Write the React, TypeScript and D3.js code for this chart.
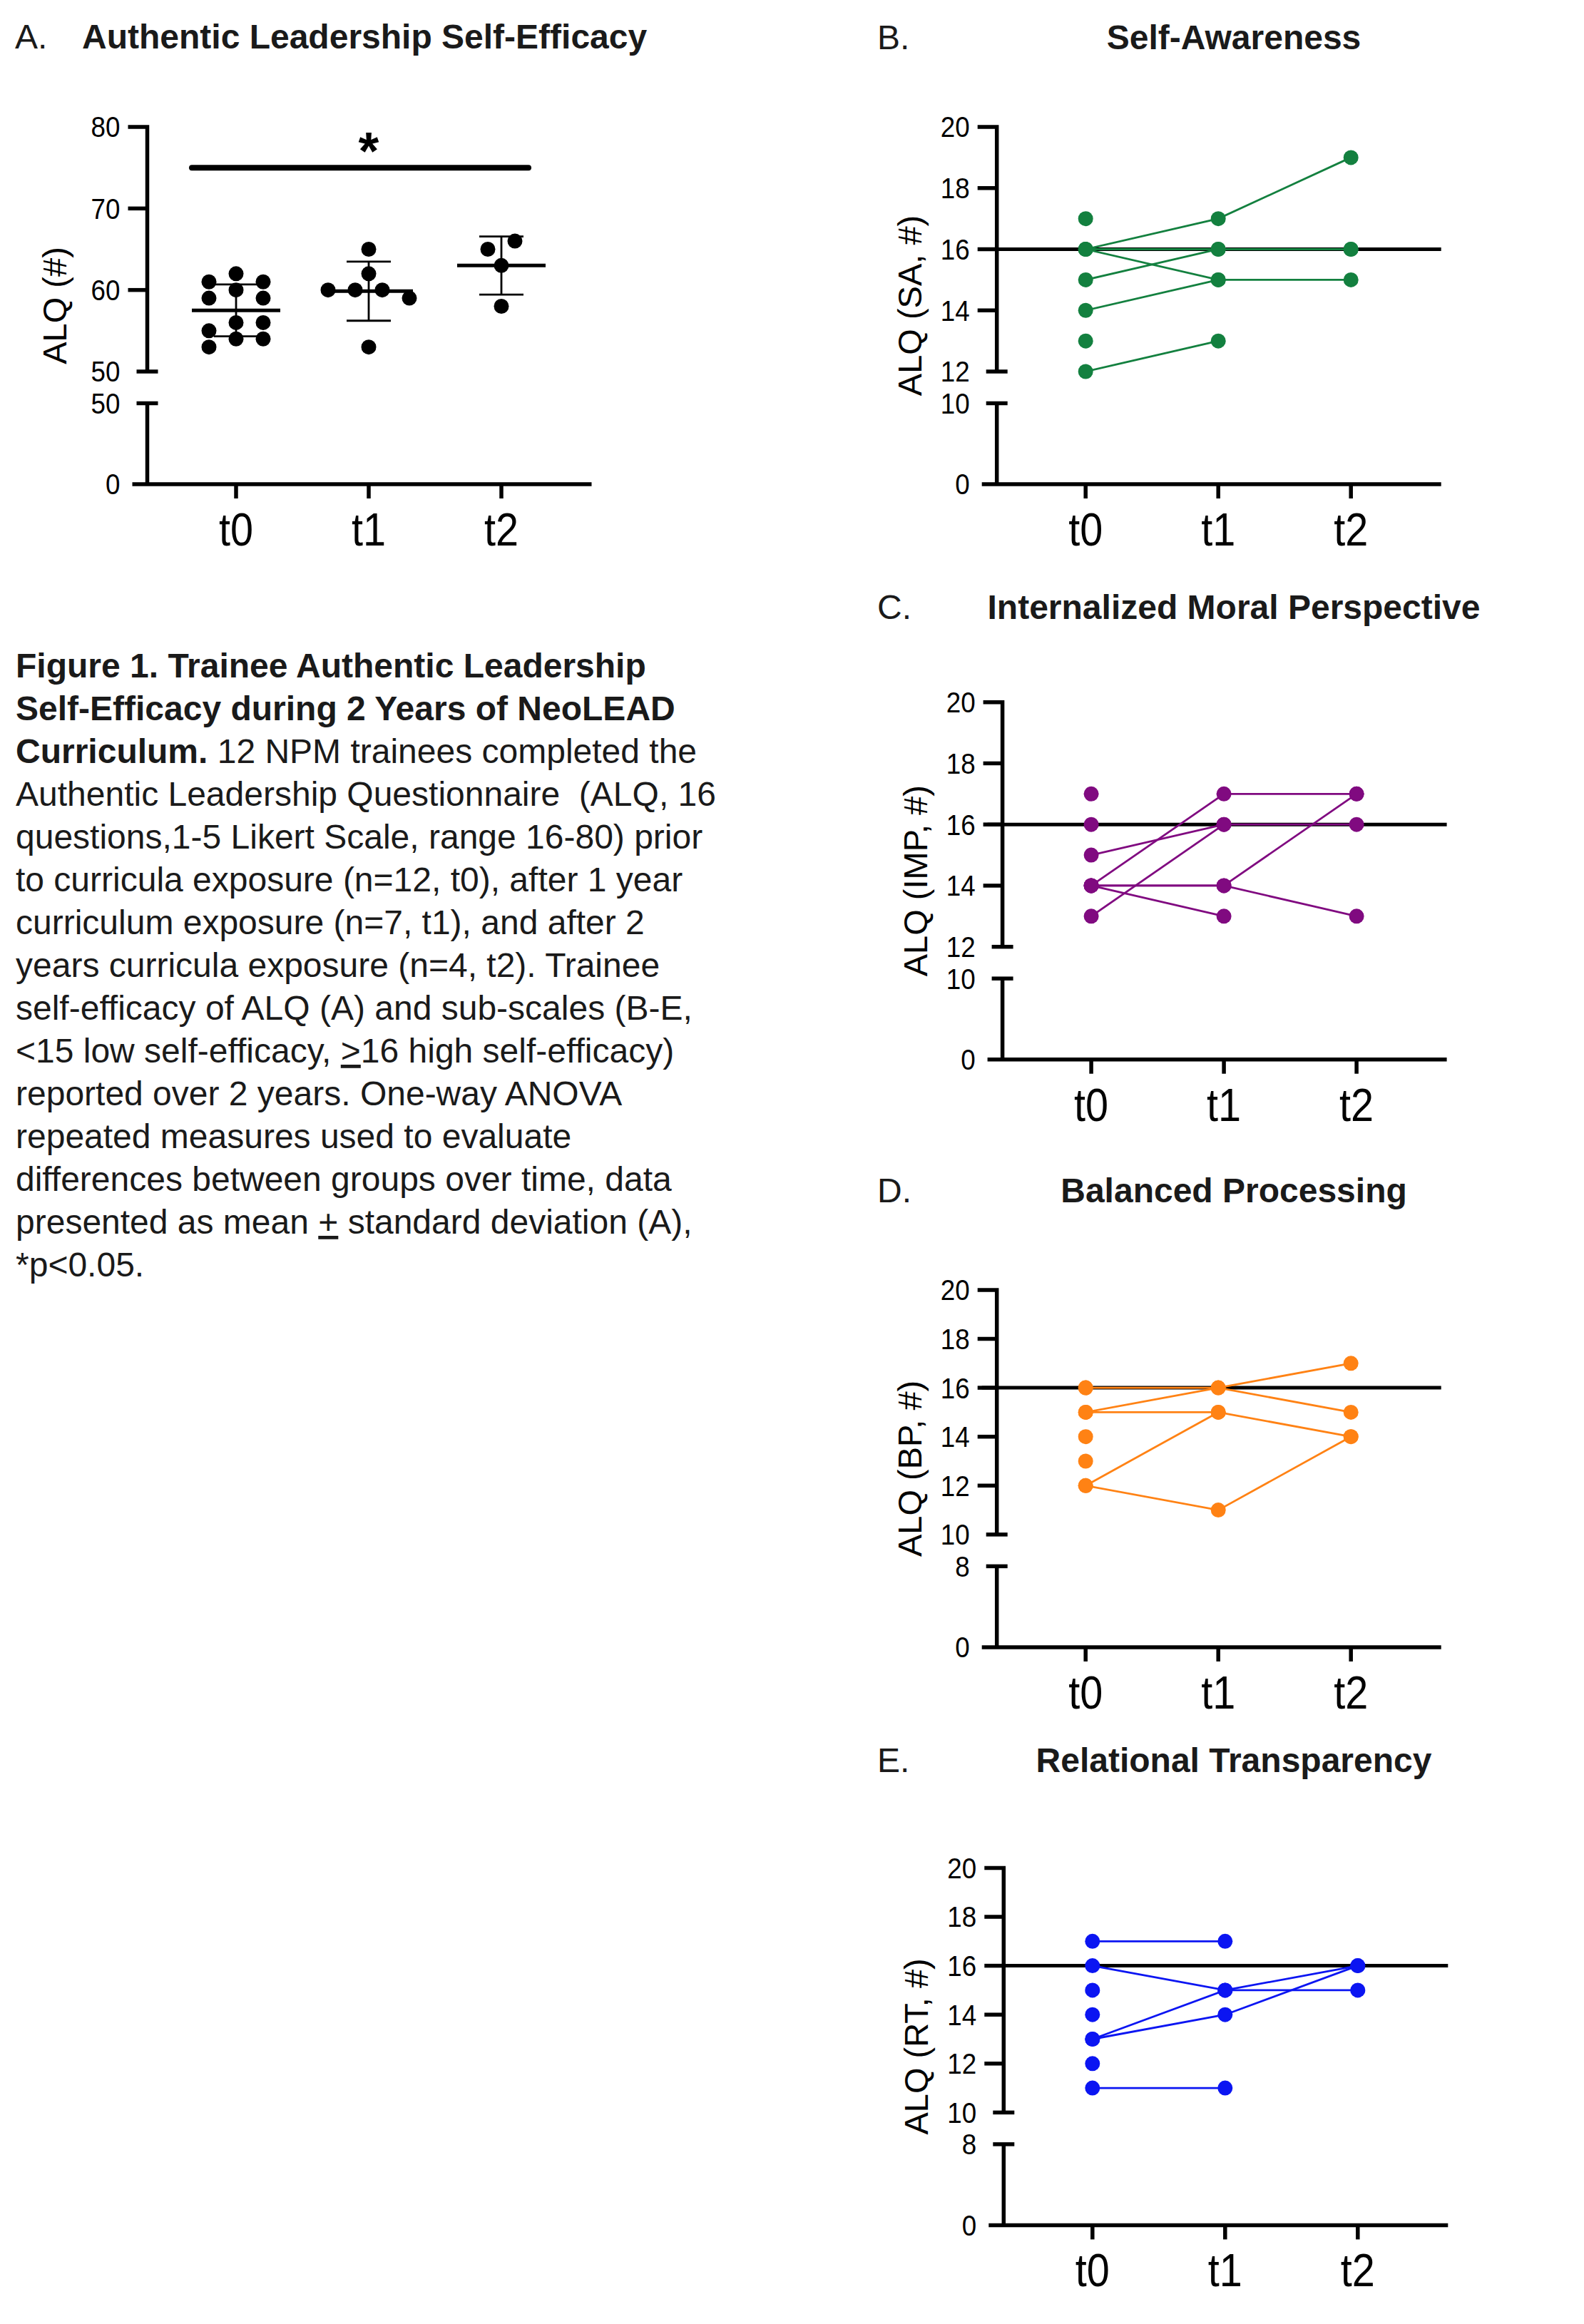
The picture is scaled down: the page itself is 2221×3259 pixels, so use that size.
import React, { useEffect, useRef } from 'react';
import * as d3 from 'd3';

// time points shared by every panel
const times = ['t0', 't1', 't2'];

// panel A: total ALQ score per trainee
const alqT0 = [62, 61, 61, 60, 59, 59, 56, 56, 55, 54, 54, 53];
const alqT1 = [65, 62, 60, 60, 60, 59, 53];
const alqT2 = [65, 66, 63, 58];
const alqUpperTicks = [50, 60, 70, 80];
const alqLowerTicks = [0, 50];
const sigLevel = 75;

// sub-scales: one row per trainee, [t0, t1, t2]
type Row = (number | null)[];
const saRows: Row[] = [
  [16, 17, 19], [16, 16, 16], [16, 15, 15], [15, 16, 16],
  [14, 15, null], [12, 13, null], [17, null, null], [13, null, null],
];
const impRows: Row[] = [
  [14, 17, 17], [15, 16, 16], [14, 14, 17], [14, 14, 13],
  [13, 16, null], [14, 13, null], [17, null, null], [16, null, null],
];
const bpRows: Row[] = [
  [15, 16, 17], [16, 16, 15], [15, 15, 14], [12, 11, 14],
  [12, 15, null], [14, null, null], [13, null, null], [16, null, null],
];
const rtRows: Row[] = [
  [17, 17, null], [16, 15, 16], [13, 15, 15], [13, 14, 16],
  [11, 11, null], [15, null, null], [14, null, null], [12, null, null],
];
const subTicks12 = [12, 14, 16, 18, 20];
const subTicks10 = [10, 12, 14, 16, 18, 20];
const threshold = 16;

const FONT = '"Liberation Sans", Arial, Helvetica, sans-serif';
const INK = '#1a1a1a';
const AXIS_W = 5.5;
const DOT_R = 10.5;

type Seg = { t: string; b?: boolean; u?: boolean };
const caption: Seg[][] = [
  [{ t: 'Figure 1. Trainee Authentic Leadership', b: true }],
  [{ t: 'Self-Efficacy during 2 Years of NeoLEAD', b: true }],
  [{ t: 'Curriculum.', b: true }, { t: ' 12 NPM trainees completed the' }],
  [{ t: 'Authentic Leadership Questionnaire  (ALQ, 16' }],
  [{ t: 'questions,1-5 Likert Scale, range 16-80) prior' }],
  [{ t: 'to curricula exposure (n=12, t0), after 1 year' }],
  [{ t: 'curriculum exposure (n=7, t1), and after 2' }],
  [{ t: 'years curricula exposure (n=4, t2). Trainee' }],
  [{ t: 'self-efficacy of ALQ (A) and sub-scales (B-E,' }],
  [{ t: '<15 low self-efficacy, ' }, { t: '>', u: true }, { t: '16 high self-efficacy)' }],
  [{ t: 'reported over 2 years. One-way ANOVA' }],
  [{ t: 'repeated measures used to evaluate' }],
  [{ t: 'differences between groups over time, data' }],
  [{ t: 'presented as mean ' }, { t: '+', u: true }, { t: ' standard deviation (A),' }],
  [{ t: '*p<0.05.' }],
];

interface FrameOpts {
  axisX: number;
  bottom: number;
  upper: [number, number];
  upperTicks: number[];
  lowerTicks: number[];
  ylabel: string;
  labelOffset: number;
}

function drawFrame(svg: d3.Selection<SVGSVGElement, unknown, null, undefined>, o: FrameOpts) {
  const top = o.bottom - 501;
  const upBot = top + 343;
  const lowTop = top + 387.5;
  const lowerMax = o.lowerTicks[o.lowerTicks.length - 1];
  const yU = d3.scaleLinear().domain(o.upper).range([upBot, top]);
  const yL = d3.scaleLinear().domain([0, lowerMax]).range([o.bottom, lowTop]);
  const x = d3.scalePoint<string>().domain(times).range([o.axisX + 124.5, o.axisX + 496.5]);
  const xStart = o.axisX - 21;
  const xEnd = o.axisX + 623;

  const g = svg.append('g').attr('stroke', '#000').attr('stroke-width', AXIS_W).attr('fill', 'none');
  // upper segment with its top tick
  g.append('path').attr('d', `M${o.axisX - 27},${yU(o.upper[1])}H${o.axisX}V${yU(o.upper[0])}`);
  g.selectAll('line.tu')
    .data(o.upperTicks.filter((v) => v !== o.upper[0] && v !== o.upper[1]))
    .enter()
    .append('line')
    .attr('x1', o.axisX - 27)
    .attr('x2', o.axisX)
    .attr('y1', (d) => yU(d))
    .attr('y2', (d) => yU(d));
  // break caps
  g.append('line').attr('x1', o.axisX - 15).attr('x2', o.axisX + 15).attr('y1', yU(o.upper[0])).attr('y2', yU(o.upper[0]));
  g.append('line').attr('x1', o.axisX - 15).attr('x2', o.axisX + 15).attr('y1', yL(lowerMax)).attr('y2', yL(lowerMax));
  // lower segment and x axis
  g.append('path').attr('d', `M${o.axisX},${yL(lowerMax)}V${yL(0)}`);
  g.append('path').attr('d', `M${xStart},${yL(0)}H${xEnd}`);
  g.selectAll('line.tx')
    .data(times)
    .enter()
    .append('line')
    .attr('x1', (d) => x(d)!)
    .attr('x2', (d) => x(d)!)
    .attr('y1', yL(0))
    .attr('y2', yL(0) + 20);

  const labels = svg.append('g').attr('fill', '#000').attr('font-size', 40).attr('text-anchor', 'end');
  const tickVals = [
    ...o.upperTicks.map((v) => ({ v, y: yU(v) })),
    ...o.lowerTicks.map((v) => ({ v, y: yL(v) })),
  ];
  labels
    .selectAll('text')
    .data(tickVals)
    .enter()
    .append('text')
    .attr('transform', (d) => `translate(${o.axisX - 38},${d.y}) scale(0.92,1)`)
    .attr('dy', '0.36em')
    .text((d) => d.v);

  svg
    .append('g')
    .attr('font-size', 64)
    .attr('text-anchor', 'middle')
    .selectAll('text')
    .data(times)
    .enter()
    .append('text')
    .attr('transform', (d) => `translate(${x(d)!},${yL(0) + 86}) scale(0.9,1)`)
    .text((d) => d);

  svg
    .append('text')
    .attr('transform', `translate(${o.axisX - o.labelOffset},${(top + o.bottom) / 2}) rotate(-90)`)
    .attr('text-anchor', 'middle')
    .attr('font-size', 47)
    .text(o.ylabel);

  return { x, yU, yL, xStart, xEnd };
}

function beeswarm(values: number[], y: (v: number) => number, step: number, r: number) {
  const placed: { dx: number; py: number }[] = [];
  values.forEach((v) => {
    const py = y(v);
    for (let k = 0; k < 20; k++) {
      const dx = k === 0 ? 0 : (k % 2 === 1 ? 1 : -1) * Math.ceil(k / 2) * step;
      const clash = placed.some((p) => Math.hypot(p.dx - dx, p.py - py) < 2 * r - 0.5);
      if (!clash) {
        placed.push({ dx, py });
        break;
      }
    }
  });
  // centre each row of touching points
  const group = placed.map((_, i) => i);
  for (let i = 0; i < placed.length; i++) {
    for (let j = 0; j < i; j++) {
      if (Math.abs(placed[i].py - placed[j].py) < 2 * r) {
        const a = group[i];
        const b = group[j];
        group.forEach((gv, k) => { if (gv === a) group[k] = b; });
      }
    }
  }
  return placed.map((p, i) => {
    const members = placed.filter((_, k) => group[k] === group[i]);
    const lo = d3.min(members, (m) => m.dx)!;
    const hi = d3.max(members, (m) => m.dx)!;
    return { dx: p.dx - (lo + hi) / 2, py: p.py };
  });
}

const App: React.FC = () => {
  const svgRef = useRef<SVGSVGElement | null>(null);

  useEffect(() => {
    if (!svgRef.current) return;
    document.body.style.margin = '0';
    const W = 2221;
    const H = 3259;
    const svg = d3.select(svgRef.current);
    svg.selectAll('*').remove();
    svg
      .attr('width', W)
      .attr('height', H)
      .attr('viewBox', `0 0 ${W} ${H}`)
      .style('display', 'block')
      .style('font-family', FONT);
    svg.append('rect').attr('width', W).attr('height', H).attr('fill', '#fff');

    // ---- panel A ----
    svg.append('text').attr('x', 21).attr('y', 68).attr('font-size', 48).attr('fill', INK).text('A.');
    svg
      .append('text')
      .attr('x', 115)
      .attr('y', 68)
      .attr('font-size', 48)
      .attr('font-weight', 'bold')
      .attr('fill', INK)
      .text('Authentic Leadership Self-Efficacy');

    const fa = drawFrame(svg, {
      axisX: 206.5,
      bottom: 679,
      upper: [50, 80],
      upperTicks: alqUpperTicks,
      lowerTicks: alqLowerTicks,
      ylabel: 'ALQ (#)',
      labelOffset: 114,
    });
    const groups = [alqT0, alqT1, alqT2];
    const ga = svg.append('g');
    groups.forEach((vals, i) => {
      const cx = fa.x(times[i])!;
      beeswarm(vals, fa.yU, 38, DOT_R).forEach((p) => {
        ga.append('circle').attr('cx', cx + p.dx).attr('cy', p.py).attr('r', DOT_R).attr('fill', '#000');
      });
      const m = d3.mean(vals)!;
      const sd = d3.deviation(vals)!;
      const eb = ga.append('g').attr('stroke', '#000').attr('fill', 'none');
      eb.append('line').attr('x1', cx).attr('x2', cx).attr('y1', fa.yU(m + sd)).attr('y2', fa.yU(m - sd)).attr('stroke-width', 2.8);
      [m + sd, m - sd].forEach((v) => {
        eb.append('line').attr('x1', cx - 31).attr('x2', cx + 31).attr('y1', fa.yU(v)).attr('y2', fa.yU(v)).attr('stroke-width', 2.8);
      });
      eb.append('line').attr('x1', cx - 62).attr('x2', cx + 62).attr('y1', fa.yU(m)).attr('y2', fa.yU(m)).attr('stroke-width', 5);
    });
    svg
      .append('line')
      .attr('x1', fa.x('t0')! - 62)
      .attr('x2', fa.x('t2')! + 38)
      .attr('y1', fa.yU(sigLevel))
      .attr('y2', fa.yU(sigLevel))
      .attr('stroke', '#000')
      .attr('stroke-width', 8)
      .attr('stroke-linecap', 'round');
    svg
      .append('text')
      .attr('x', fa.x('t1')!)
      .attr('y', fa.yU(sigLevel) + 2)
      .attr('text-anchor', 'middle')
      .attr('font-size', 74)
      .attr('font-weight', 'bold')
      .text('*');

    // ---- panels B-E ----
    const panels = [
      { letter: 'B.', title: 'Self-Awareness', ylabel: 'ALQ (SA, #)', color: '#13803f', rows: saRows, ticks: subTicks12, lower: [0, 10], axisX: 1397.7, bottom: 679, titleY: 68.5 },
      { letter: 'C.', title: 'Internalized Moral Perspective', ylabel: 'ALQ (IMP, #)', color: '#800a80', rows: impRows, ticks: subTicks12, lower: [0, 10], axisX: 1405.6, bottom: 1485.7, titleY: 868 },
      { letter: 'D.', title: 'Balanced Processing', ylabel: 'ALQ (BP, #)', color: '#ff8214', rows: bpRows, ticks: subTicks10, lower: [0, 8], axisX: 1397.7, bottom: 2309.9, titleY: 1686 },
      { letter: 'E.', title: 'Relational Transparency', ylabel: 'ALQ (RT, #)', color: '#0b15f2', rows: rtRows, ticks: subTicks10, lower: [0, 8], axisX: 1407.3, bottom: 3120.4, titleY: 2485 },
    ];

    panels.forEach((p) => {
      svg.append('text').attr('x', 1230).attr('y', p.titleY).attr('font-size', 48).attr('fill', INK).text(p.letter);
      svg
        .append('text')
        .attr('x', 1730)
        .attr('y', p.titleY)
        .attr('text-anchor', 'middle')
        .attr('font-size', 48)
        .attr('font-weight', 'bold')
        .attr('fill', INK)
        .text(p.title);

      const f = drawFrame(svg, {
        axisX: p.axisX,
        bottom: p.bottom,
        upper: [p.ticks[0], p.ticks[p.ticks.length - 1]],
        upperTicks: p.ticks,
        lowerTicks: p.lower,
        ylabel: p.ylabel,
        labelOffset: 106,
      });

      svg
        .append('line')
        .attr('x1', f.xStart)
        .attr('x2', f.xEnd)
        .attr('y1', f.yU(threshold))
        .attr('y2', f.yU(threshold))
        .attr('stroke', '#000')
        .attr('stroke-width', 5);

      const line = d3
        .line<number | null>()
        .defined((d) => d != null)
        .x((_, i) => f.x(times[i])!)
        .y((d) => f.yU(d as number));

      const g = svg.append('g');
      g.selectAll('path')
        .data(p.rows)
        .enter()
        .append('path')
        .attr('d', (r) => line(r))
        .attr('fill', 'none')
        .attr('stroke', p.color)
        .attr('stroke-width', 2.8);

      const pts = p.rows.flatMap((r) =>
        r.map((v, i) => ({ v, t: times[i] })).filter((d) => d.v != null)
      );
      g.selectAll('circle')
        .data(pts)
        .enter()
        .append('circle')
        .attr('cx', (d) => f.x(d.t)!)
        .attr('cy', (d) => f.yU(d.v as number))
        .attr('r', DOT_R)
        .attr('fill', p.color);
    });

    // ---- caption ----
    const cap = svg.append('g').attr('font-size', 48).attr('fill', INK);
    caption.forEach((segs, i) => {
      const t = cap
        .append('text')
        .attr('x', 22)
        .attr('y', 950 + i * 60)
        .attr('xml:space', 'preserve')
        .style('white-space', 'pre');
      segs.forEach((s) => {
        const ts = t.append('tspan').style('white-space', 'pre').text(s.t);
        if (s.b) ts.attr('font-weight', 'bold');
        if (s.u) ts.attr('text-decoration', 'underline');
      });
    });
  }, []);

  return <svg ref={svgRef}></svg>;
};

export default App;
